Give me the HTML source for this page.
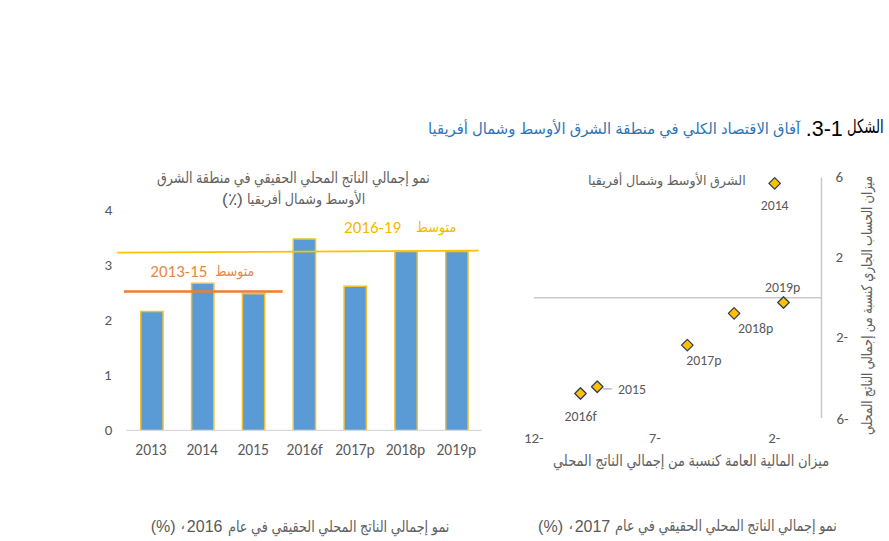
<!DOCTYPE html>
<html lang="ar">
<head>
<meta charset="utf-8">
<title>الشكل 1-3</title>
<style>
html,body{margin:0;padding:0;background:#fff;}
body{width:889px;height:541px;position:relative;overflow:hidden;font-family:"Liberation Sans","DejaVu Sans",sans-serif;}
.t{position:absolute;white-space:nowrap;line-height:1;transform-origin:0 0;}
.ar{direction:rtl;font-family:"Liberation Sans","DejaVu Sans",sans-serif;}
.lat{font-family:"Liberation Sans",sans-serif;direction:ltr;}
.num{font-family:"Carlito","Liberation Sans",sans-serif;direction:ltr;}
.d{font-family:"Liberation Sans",sans-serif;}
.g{color:#595959;}
.ar.g{color:#616161;}
svg{position:absolute;left:0;top:0;}
</style>
</head>
<body>
<svg width="889" height="541" viewBox="0 0 889 541">
  <g fill="#5B9BD5">
    <rect x="140.75" y="311.45" width="22.30" height="118.55"/>
    <rect x="191.58" y="283.35" width="22.30" height="146.65"/>
    <rect x="242.41" y="293.65" width="22.30" height="136.35"/>
    <rect x="293.24" y="239.05" width="22.30" height="190.95"/>
    <rect x="344.07" y="286.15" width="22.30" height="143.85"/>
    <rect x="394.90" y="251.55" width="22.30" height="178.45"/>
    <rect x="445.73" y="251.55" width="22.30" height="178.45"/>
  </g>
  <g fill="none" stroke="#F0C030" stroke-width="1.5">
    <path d="M140.75 430 V311.45 H163.05 V430"/>
    <path d="M191.58 430 V283.35 H213.88 V430"/>
    <path d="M242.41 430 V293.65 H264.71 V430"/>
    <path d="M293.24 430 V239.05 H315.54 V430"/>
    <path d="M344.07 430 V286.15 H366.37 V430"/>
    <path d="M394.90 430 V251.55 H417.20 V430"/>
    <path d="M445.73 430 V251.55 H468.03 V430"/>
  </g>
  <line x1="126.3" y1="430.4" x2="481.9" y2="430.4" stroke="#D9D9D9" stroke-width="1.1"/>
  <line x1="117.2" y1="252.7" x2="478.6" y2="250.6" stroke="#FFC000" stroke-width="1.8"/>
  <line x1="124" y1="291.4" x2="282.7" y2="291.6" stroke="#ED7D31" stroke-width="2.5"/>
  <line x1="534" y1="297.7" x2="821.5" y2="297.7" stroke="#C8C8C8" stroke-width="1.5"/>
  <line x1="821.5" y1="177.5" x2="821.5" y2="418" stroke="#C8C8C8" stroke-width="1.5"/>
  <g fill="#FFC000" stroke="#2F3E56" stroke-width="1.3" stroke-linejoin="round">
    <path d="M774.65 177.65 L780.40 183.40 L774.65 189.15 L768.90 183.40 Z"/>
    <path d="M783.50 296.75 L789.25 302.50 L783.50 308.25 L777.75 302.50 Z"/>
    <path d="M734.10 307.60 L739.85 313.35 L734.10 319.10 L728.35 313.35 Z"/>
    <path d="M687.30 339.35 L693.05 345.10 L687.30 350.85 L681.55 345.10 Z"/>
    <path d="M597.25 380.95 L603.00 386.70 L597.25 392.45 L591.50 386.70 Z"/>
    <path d="M580.50 387.75 L586.25 393.50 L580.50 399.25 L574.75 393.50 Z"/>
  </g>
  <line x1="603" y1="388.9" x2="611.8" y2="388.9" stroke="#A6A6A6" stroke-width="1.2"/>
</svg>
<div class="t ar" id="title_k" style="left:847.19px;top:116.65px;font-size:16.4px;color:#000;transform:scale(0.8054,1.1624);">الشكل</div>
<div class="t lat" id="title_n" style="left:805.75px;top:118.85px;font-size:21.5px;color:#000;">.3-1</div>
<div class="t ar" id="title_b" style="left:427.78px;top:120.66px;font-size:16.4px;color:#2E74B5;transform:scale(0.9024,0.9263);">آفاق الاقتصاد الكلي في منطقة الشرق الأوسط وشمال أفريقيا</div>
<div class="t ar g" id="lt1" style="left:156.65px;top:169.93px;font-size:14.3px;transform:scale(0.8873,1.0745);">نمو إجمالي الناتج المحلي الحقيقي في منطقة الشرق</div>
<div class="t ar g" id="lt2" style="left:246.56px;top:192.32px;font-size:14.3px;transform:scale(0.8886,1.0000);">الأوسط وشمال أفريقيا</div>
<div class="t lat g" id="lt2p" style="left:222.00px;top:190.96px;font-size:17px;transform:scale(1.0192,1.0111);">(٪)</div>
<div class="t num g" id="y4" style="left:104.70px;top:203.00px;font-size:15px;">4</div>
<div class="t num g" id="y3" style="left:104.40px;top:257.95px;font-size:15px;">3</div>
<div class="t num g" id="y2" style="left:104.40px;top:312.95px;font-size:15px;">2</div>
<div class="t num g" id="y1" style="left:103.90px;top:367.95px;font-size:15px;">1</div>
<div class="t num g" id="y0" style="left:104.70px;top:423.10px;font-size:15px;">0</div>
<div class="t num g" id="x2013" style="left:135.30px;top:442.00px;font-size:15.5px;">2013</div>
<div class="t num g" id="x2014" style="left:186.40px;top:442.00px;font-size:15.5px;">2014</div>
<div class="t num g" id="x2015" style="left:237.40px;top:442.00px;font-size:15.5px;">2015</div>
<div class="t num g" id="x2016" style="left:286.60px;top:441.95px;font-size:15.5px;">2016f</div>
<div class="t num g" id="x2017" style="left:335.20px;top:441.95px;font-size:15.5px;">2017p</div>
<div class="t num g" id="x2018" style="left:385.65px;top:441.95px;font-size:15.5px;">2018p</div>
<div class="t num g" id="x2019" style="left:436.50px;top:441.95px;font-size:15.5px;">2019p</div>
<div class="t num" id="a1315" style="left:150.35px;top:263.05px;font-size:17px;color:#E2884A;">2013-15</div>
<div class="t ar" id="m1315" style="left:214.69px;top:263.57px;font-size:14px;color:#E2884A;transform:scale(0.8928,1.0361);">متوسط</div>
<div class="t num" id="a1619" style="left:344.10px;top:218.90px;font-size:17px;color:#F5B800;">2016-19</div>
<div class="t ar" id="m1619" style="left:415.91px;top:218.84px;font-size:14px;color:#F5B800;transform:scale(0.9167,1.0746);">متوسط</div>
<div class="t ar g" id="rleg" style="left:587.73px;top:173.69px;font-size:14px;transform:scale(0.9095,0.9425);">الشرق الأوسط وشمال أفريقيا</div>
<div class="t num g" id="r6" style="left:835.50px;top:169.65px;font-size:15px;">6</div>
<div class="t num g" id="r2" style="left:835.50px;top:249.75px;font-size:15px;">2</div>
<div class="t num g" id="rm2" style="left:835.90px;top:330.15px;font-size:15px;">2-</div>
<div class="t num g" id="rm6" style="left:836.40px;top:412.00px;font-size:15px;">6-</div>
<div class="t num g" id="xm12" style="left:523.90px;top:431.00px;font-size:15px;">12-</div>
<div class="t num g" id="xm7" style="left:648.65px;top:431.00px;font-size:15px;">7-</div>
<div class="t num g" id="xm2" style="left:768.15px;top:431.00px;font-size:15px;">2-</div>
<div class="t ar g" id="xtitle" style="left:552.63px;top:452.71px;font-size:14px;transform:scale(0.9306,1.1090);">ميزان المالية العامة كنسبة من إجمالي الناتج المحلي</div>
<div class="t ar g" id="ytitle" style="left:859.25px;top:435.1px;font-size:14px;transform:rotate(-90deg) scale(0.830,1.05);">ميزان الحساب الجاري كنسبة من إجمالي الناتج المحلي</div>
<div class="t num g" id="p2014" style="left:760.65px;top:198.90px;font-size:13.8px;">2014</div>
<div class="t num g" id="p2019" style="left:765.05px;top:280.60px;font-size:13.8px;">2019p</div>
<div class="t num g" id="p2018" style="left:738.05px;top:322.15px;font-size:13.8px;">2018p</div>
<div class="t num g" id="p2017" style="left:686.35px;top:353.80px;font-size:13.8px;">2017p</div>
<div class="t num g" id="p2015" style="left:618.00px;top:382.85px;font-size:13.8px;">2015</div>
<div class="t num g" id="p2016" style="left:564.45px;top:409.90px;font-size:13.8px;">2016f</div>
<div class="t ar g" id="cap1a" style="left:227.63px;top:519.05px;font-size:14px;transform:scale(0.9168,1.1075);">نمو إجمالي الناتج المحلي الحقيقي في عام</div>
<div class="t lat g" id="cap1y" style="left:186.85px;top:519.10px;font-size:16px;">2016</div>
<div class="t ar g" id="cap1c" style="left:180.50px;top:517.20px;font-size:14px;">،</div>
<div class="t lat g" id="cap1p" style="left:150.70px;top:519.45px;font-size:16px;">(%)</div>
<div class="t ar g" id="cap2a" style="left:615.30px;top:518.23px;font-size:14px;transform:scale(0.9185,1.1090);">نمو إجمالي الناتج المحلي الحقيقي في عام</div>
<div class="t lat g" id="cap2y" style="left:574.65px;top:519.10px;font-size:16px;">2017</div>
<div class="t ar g" id="cap2c" style="left:568.40px;top:517.20px;font-size:14px;">،</div>
<div class="t lat g" id="cap2p" style="left:538.10px;top:519.15px;font-size:16px;">(%)</div>
</body>
</html>
